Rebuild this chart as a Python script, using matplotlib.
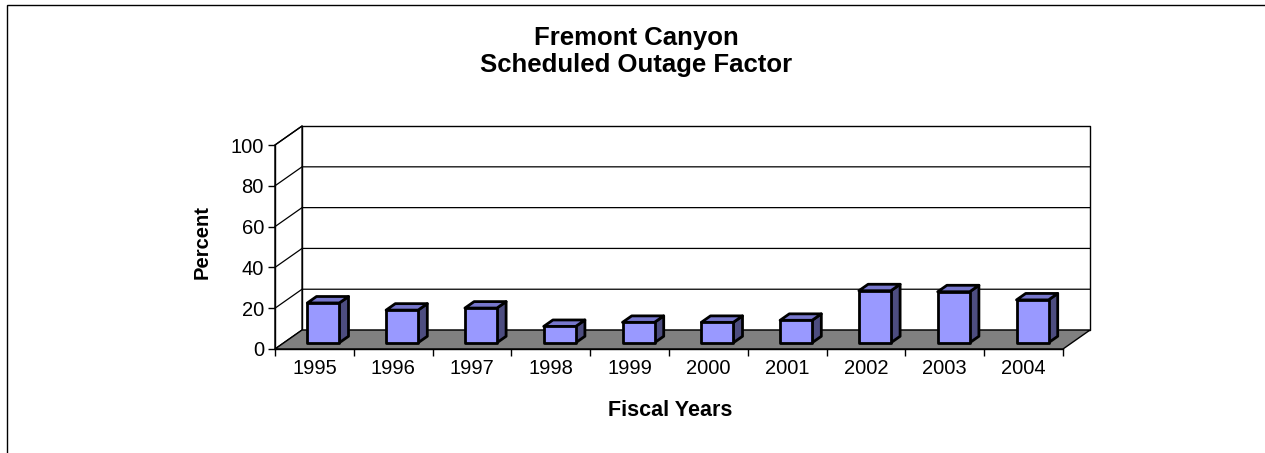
import matplotlib

matplotlib.use("Agg")
import matplotlib.pyplot as plt
from matplotlib.patches import Polygon, Rectangle

plt.rcParams["font.family"] = ["Liberation Sans", "DejaVu Sans"]

YEARS = ["1995", "1996", "1997", "1998", "1999", "2000", "2001", "2002", "2003", "2004"]
OUTAGE = [19.5, 16, 17, 8, 10, 10, 11, 25.5, 25, 21]
Y_TICKS = [0, 20, 40, 60, 80, 100]

FRONT = "#9999FF"
TOP = "#7777CC"
SIDE = "#4D4D80"
FLOOR = "#808080"

# depth offset of the 3d box, in data units (category / percent)
DX = 0.343
DY = 9.3
BAR_W = 0.406
D0, D1 = 0.33, 0.67


def proj(x, y, d):
    return (x + d * DX, y + d * DY)


def face(ax, pts, color, lw=1.0, z=1):
    ax.add_patch(Polygon(pts, closed=True, facecolor=color, edgecolor="black",
                         linewidth=lw, joinstyle="round", clip_on=False, zorder=z))


fig = plt.figure(figsize=(12.65, 4.53), dpi=100)
ax = fig.add_axes([275 / 1265, 1 - 349 / 453, 788 / 1265, 204 / 453])
n = len(YEARS)
ax.set_xlim(0, n)
ax.set_ylim(0, 100)
for s in ax.spines.values():
    s.set_visible(False)
ax.patch.set_visible(False)

# back wall
face(ax, [proj(0, 0, 1), proj(n, 0, 1), proj(n, 100, 1), proj(0, 100, 1)], "white", 1.0)
# left wall
face(ax, [proj(0, 0, 0), proj(0, 0, 1), proj(0, 100, 1), proj(0, 100, 0)], "white", 1.0)
for v in Y_TICKS[1:-1]:
    xs, ys = zip(proj(0, v, 0), proj(0, v, 1), proj(n, v, 1))
    ax.plot(xs, ys, color="black", lw=0.9, clip_on=False, zorder=1.5)
xs, ys = zip(proj(0, 100, 0), proj(0, 100, 1))
ax.plot(xs, ys, color="black", lw=0.9, clip_on=False, zorder=1.5)

# floor
face(ax, [proj(0, 0, 0), proj(n, 0, 0), proj(n, 0, 1), proj(0, 0, 1)], FLOOR, 1.0, z=2)

# bars
for i, v in enumerate(OUTAGE):
    c = i + 0.5
    x0, x1 = c - BAR_W / 2, c + BAR_W / 2
    face(ax, [proj(x1, 0, D0), proj(x1, 0, D1), proj(x1, v, D1), proj(x1, v, D0)], SIDE, 2.0, z=3)
    face(ax, [proj(x0, v, D0), proj(x1, v, D0), proj(x1, v, D1), proj(x0, v, D1)], TOP, 2.0, z=3)
    face(ax, [proj(x0, 0, D0), proj(x1, 0, D0), proj(x1, v, D0), proj(x0, v, D0)], FRONT, 2.0, z=3)

# front axes
ax.plot([0, 0], [0, 100], color="black", lw=1.0, clip_on=False, zorder=4)
ax.plot([0, n], [0, 0], color="black", lw=1.0, clip_on=False, zorder=4)

ax.set_yticks(Y_TICKS)
ax.set_yticklabels([str(t) for t in Y_TICKS], fontsize=14.5)
ax.set_xticks(range(n + 1))
ax.set_xticklabels([])
ax.set_xticks([i + 0.5 for i in range(n)], minor=True)
ax.set_xticklabels(YEARS, minor=True, fontsize=14.5)
ax.tick_params(axis="y", length=5, width=1, pad=3)
ax.tick_params(axis="x", which="major", length=5, width=1)
ax.tick_params(axis="x", which="minor", length=0, pad=7)

fig.text(202 / 1265, 1 - 242 / 453, "Percent", rotation=90, ha="center", va="center",
         fontsize=14.5, fontweight="bold")
fig.text(670 / 1265, 1 - 411 / 453, "Fiscal Years", ha="center", va="center",
         fontsize=15.5, fontweight="bold")
fig.text(636 / 1265, 1 - 38 / 453, "Fremont Canyon", ha="center", va="center",
         fontsize=18.5, fontweight="bold")
fig.text(636 / 1265, 1 - 65 / 453, "Scheduled Outage Factor", ha="center", va="center",
         fontsize=18.5, fontweight="bold")

# chart area border (right and bottom edges fall outside the picture)
fig.patches.append(Rectangle((6.5 / 1265, -0.1), 1.2, 1 - 5.5 / 453 + 0.1,
                             transform=fig.transFigure, fill=False,
                             edgecolor="black", linewidth=1.0))

fig.savefig("out.png", dpi=100)
